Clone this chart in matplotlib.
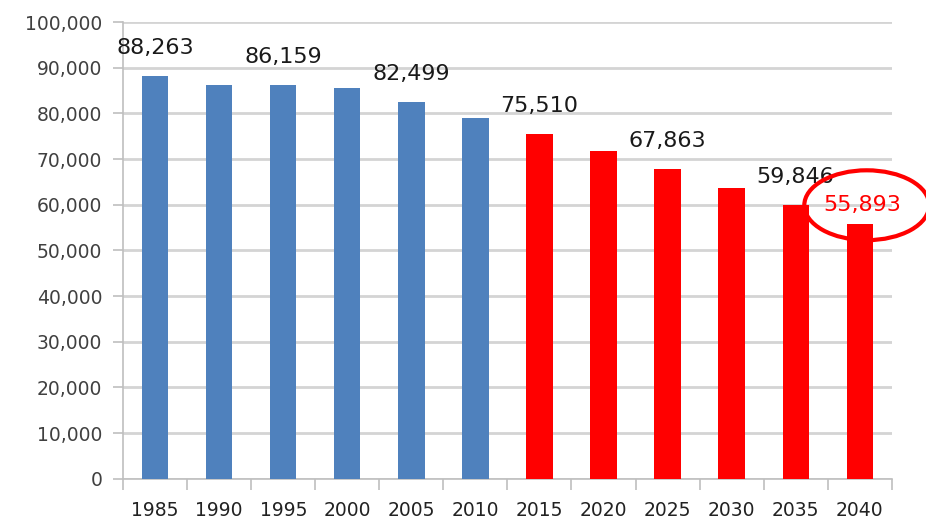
import matplotlib.pyplot as plt
import numpy as np
from matplotlib.patches import Ellipse

years = ['1985', '1990', '1995', '2000', '2005', '2010',
         '2015', '2020', '2025', '2030', '2035', '2040']
population = [88263, 86300, 86159, 85600, 82499, 79000,
              75510, 71800, 67863, 63700, 59846, 55893]
# which bars carry a printed value
labelled = [True, False, True, False, True, False,
            True, False, True, False, True, True]
n_actual = 6  # first six are census figures, rest are projections

blue = '#4f81bd'
red = '#ff0000'

fig = plt.figure(figsize=(9.26, 5.25), dpi=100)
ax = fig.add_axes([0.133, 0.088, 0.83, 0.87])

x = np.arange(len(years))
colors = [blue] * n_actual + [red] * (len(years) - n_actual)
ax.bar(x, population, width=0.41, color=colors, zorder=3)

ax.set_ylim(0, 100000)
ax.set_xlim(-0.5, 11.5)
ax.set_yticks(np.arange(0, 100001, 10000))
ax.set_yticklabels([f'{v:,}' for v in range(0, 100001, 10000)])
ax.yaxis.grid(True, color='#d4d4d4', linewidth=2, zorder=0)
ax.set_axisbelow(True)

ax.set_xticks(x)
ax.set_xticklabels(years)
ax.set_xticks(np.arange(-0.5, 11.6, 1), minor=True)
ax.tick_params(axis='x', which='major', length=0, pad=16, labelsize=13.5, labelcolor='#222222')
ax.tick_params(axis='x', which='minor', length=8, color='#bfbfbf', width=1.2, direction='out')
ax.tick_params(axis='y', length=7, color='#bfbfbf', width=1.2, labelsize=13.5, labelcolor='#404040', pad=8)

for s in ['top', 'right']:
    ax.spines[s].set_visible(False)
for s in ['left', 'bottom']:
    ax.spines[s].set_color('#bfbfbf')
    ax.spines[s].set_linewidth(1.2)

for i, (v, lab) in enumerate(zip(population, labelled)):
    if not lab:
        continue
    last = i == len(years) - 1
    c = red if last else '#1a1a1a'
    ax.annotate(f'{v:,}', (x[i], v), xytext=(2 if last else 0, 6 if last else 13),
                textcoords='offset points', ha='center', va='bottom', fontsize=16, color=c)

# red circle around the 2040 projection
ax.add_patch(Ellipse((x[-1] + 0.11, population[-1] + 4000), 1.95, 15300,
                     fill=False, edgecolor=red, linewidth=3, clip_on=False, zorder=5))

fig.savefig('out.png', dpi=100)
